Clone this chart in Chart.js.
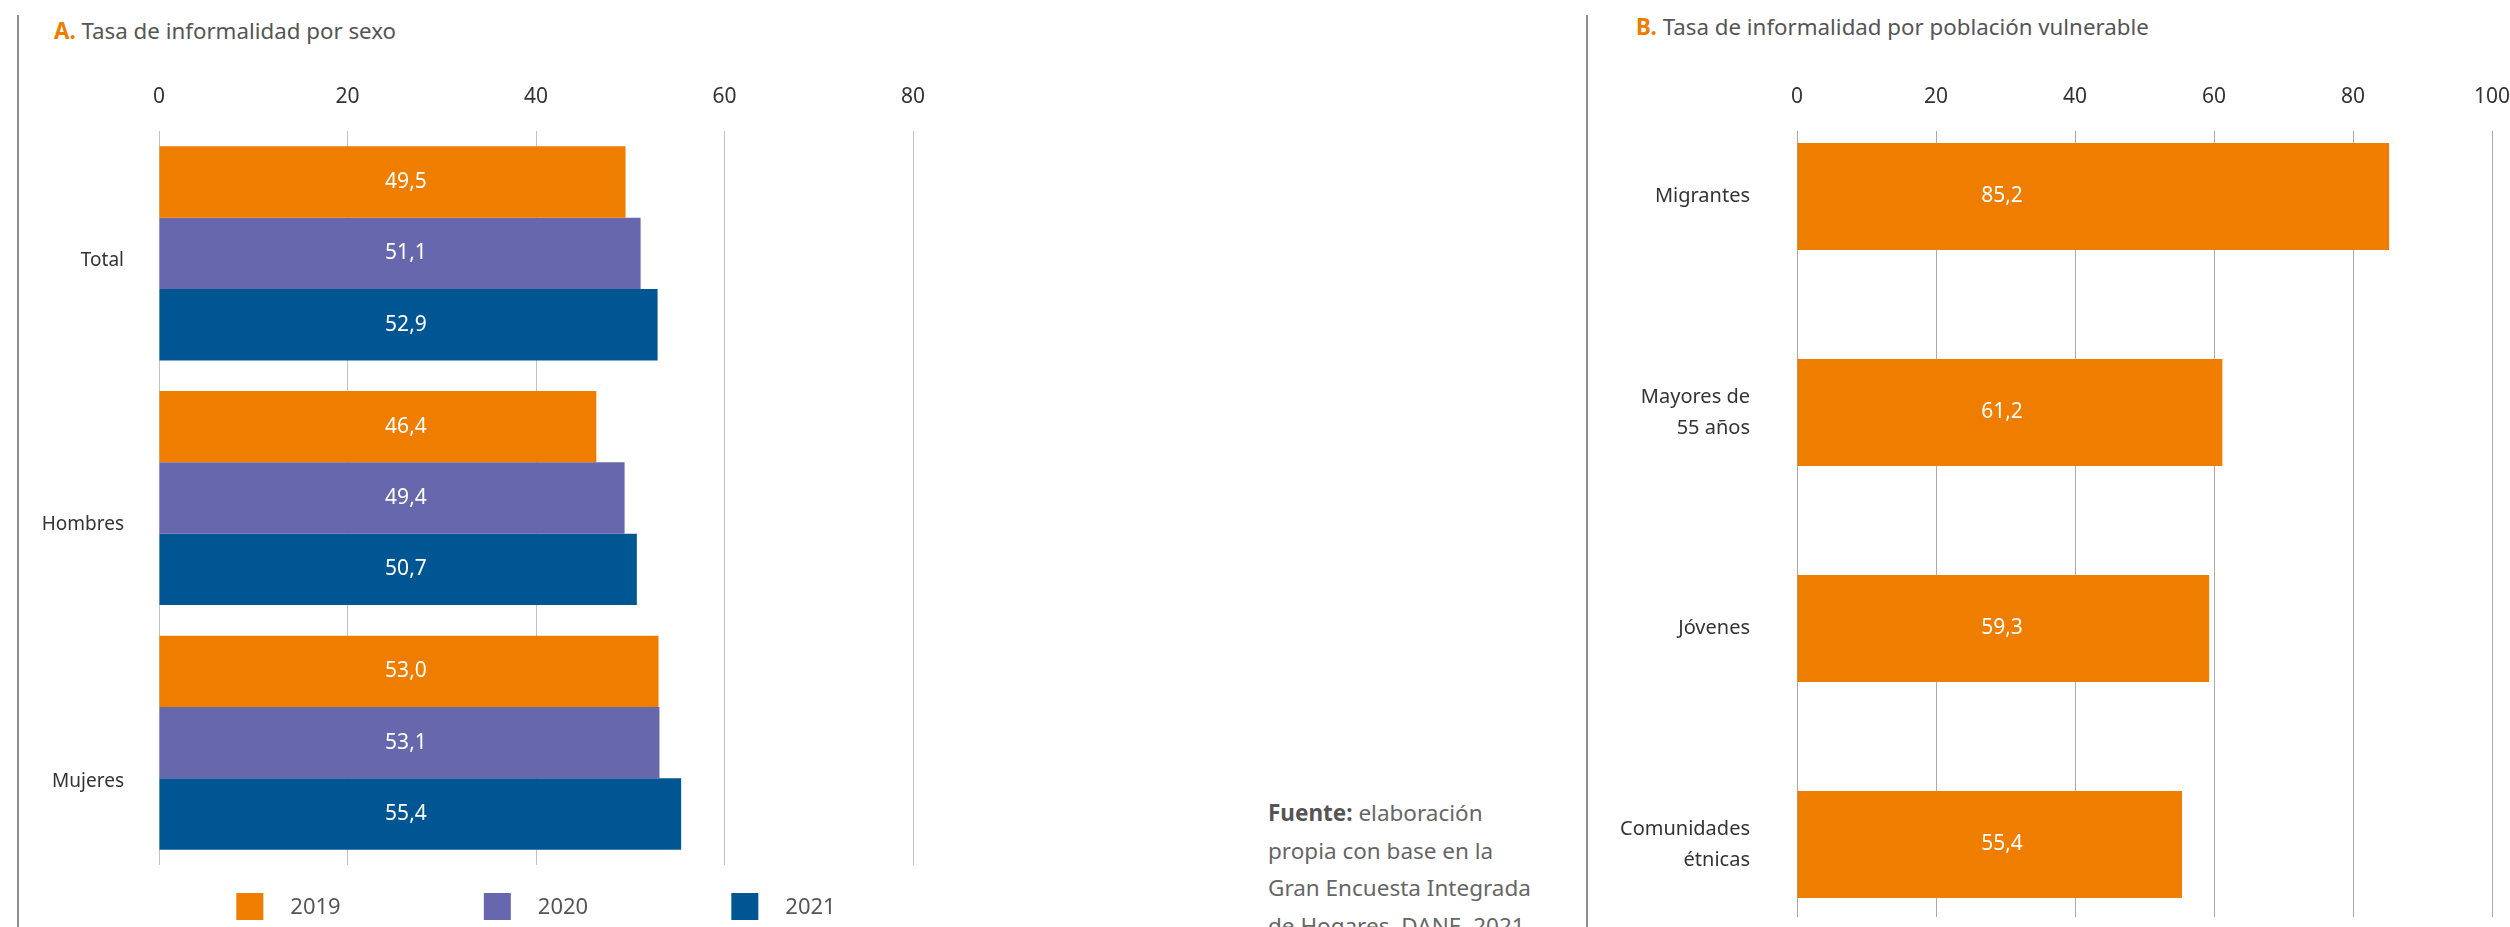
<!DOCTYPE html>
<html>
<head>
<meta charset="utf-8">
<script src="https://cdn.jsdelivr.net/npm/chart.js@4.4.1/dist/chart.umd.min.js"></script>
<style>
  html, body { margin: 0; padding: 0; background: #fff; }
  body { width: 2510px; height: 927px; position: relative; overflow: hidden; font-family: "Noto Sans", "DejaVu Sans", sans-serif; }
  .vline { position: absolute; top: 15px; width: 2px; height: 912px; background: #8e8e8e; }
  .title { position: absolute; font-size: 22.3px; line-height: 26px; color: #555; white-space: nowrap; }
  .title b { color: #EE7D00; font-weight: 700; }
  .box { position: absolute; top: 0; height: 927px; }
  #source { position: absolute; left: 1268px; top: 794px; font-size: 22.5px; line-height: 37.5px; color: #666; white-space: nowrap; }
  #source b { color: #555; font-weight: 700; }
</style>
</head>
<body>
<div class="vline" style="left:17px"></div>
<div class="vline" style="left:1586px"></div>
<div class="title" style="left:54px; top:18px"><b>A.</b> Tasa de informalidad por sexo</div>
<div class="title" style="left:1636px; top:14px"><b>B.</b> Tasa de informalidad por población vulnerable</div>
<div class="box" style="left:20px; width:1032px;"><canvas id="cA"></canvas></div>
<div class="box" style="left:1600px; width:910px;"><canvas id="cB"></canvas></div>
<div id="source"><b>Fuente:</b> elaboración<br>propia con base en la<br>Gran Encuesta Integrada<br>de Hogares, DANE, 2021</div>

<script>
// ---------- DATA ----------
const catsA = ['Total', 'Hombres', 'Mujeres'];
const yearsA = ['2019', '2020', '2021'];
const vals2019 = [49.5, 46.4, 53.0];
const vals2020 = [51.1, 49.4, 53.1];
const vals2021 = [52.9, 50.7, 55.4];
const ticksA = [0, 20, 40, 60, 80];

const catsB = ['Migrantes', 'Mayores de 55 años', 'Jóvenes', 'Comunidades étnicas'];
const valsB = [85.2, 61.2, 59.3, 55.4];
const ticksB = [0, 20, 40, 60, 80, 100];

// ---------- STYLE ----------
const colorsA = ['#EE7D00', '#6667AC', '#005693'];
const colorB = '#EE7D00';
const labelShiftA = [7, 27, 39];

Chart.defaults.font.family = '"Noto Sans", "DejaVu Sans", sans-serif';
Chart.defaults.color = '#333';

const fmt = v => v.toFixed(1).replace('.', ',');

function wrapLabel(s, maxChars) {
  const words = s.split(' ');
  const lines = [];
  let cur = '';
  words.forEach(w => {
    const t = cur ? cur + ' ' + w : w;
    if (t.length > maxChars && cur) { lines.push(cur); cur = w; } else { cur = t; }
  });
  if (cur) lines.push(cur);
  return lines;
}

const valueLabels = {
  id: 'valueLabels',
  afterDatasetsDraw(chart, args, o) {
    const { ctx } = chart;
    const x = chart.scales.x.getPixelForValue(o.at);
    ctx.save();
    ctx.font = o.size + 'px ' + Chart.defaults.font.family;
    ctx.fillStyle = o.color;
    ctx.textAlign = 'center';
    ctx.textBaseline = 'middle';
    chart.data.datasets.forEach((ds, di) => {
      const meta = chart.getDatasetMeta(di);
      meta.data.forEach((bar, i) => {
        const raw = ds.data[i];
        const v = (typeof raw === 'object') ? raw.x : raw;
        ctx.fillText(fmt(v), x, bar.y);
      });
    });
    ctx.restore();
  }
};

const rowLegend = {
  id: 'rowLegend',
  afterDraw(chart, args, o) {
    if (!o || !o.display) return;
    const { ctx, chartArea: a } = chart;
    const items = chart.data.datasets;
    ctx.save();
    ctx.font = o.size + 'px ' + Chart.defaults.font.family;
    const lastW = o.box + o.gap + ctx.measureText(items[items.length - 1].label).width;
    const total = o.spacing * (items.length - 1) + lastW;
    let x = (a.left + a.right) / 2 - total / 2;
    const top = a.bottom + o.offset;
    items.forEach(d => {
      ctx.fillStyle = d.backgroundColor;
      ctx.fillRect(x, top, o.box, o.box);
      ctx.fillStyle = o.color;
      ctx.textAlign = 'left';
      ctx.textBaseline = 'middle';
      ctx.fillText(d.label, x + o.box + o.gap, top + o.box / 2 + 1);
      x += o.spacing;
    });
    ctx.restore();
  }
};

// ---------- CHART A ----------
const seriesA = [vals2019, vals2020, vals2021];
new Chart(document.getElementById('cA'), {
  type: 'bar',
  data: {
    labels: catsA,
    datasets: yearsA.map((y, k) => ({
      label: y,
      data: seriesA[k],
      backgroundColor: colorsA[k],
      categoryPercentage: 0.875,
      barPercentage: 1
    }))
  },
  options: {
    indexAxis: 'y',
    responsive: true,
    maintainAspectRatio: false,
    animation: false,
    layout: { padding: { top: 86, right: 139, bottom: 62, left: 0 } },
    scales: {
      x: {
        position: 'top',
        min: ticksA[0],
        max: ticksA[ticksA.length - 1],
        afterBuildTicks: s => { s.ticks = ticksA.map(v => ({ value: v })); },
        afterFit: s => { s.height = 45; },
        ticks: { font: { size: 21 }, color: '#333', padding: 21 },
        grid: { color: '#c2c2c2', lineWidth: 1, drawTicks: false },
        border: { display: false }
      },
      y: {
        afterFit: s => { s.width = 139; },
        grid: { display: false, drawTicks: false },
        border: { display: false },
        ticks: {
          autoSkip: false,
          padding: 35,
          color: '#333',
          callback: (v, i) => ['', catsA[i]],
          font: c => ({ size: 19, lineHeight: (2 * (labelShiftA[c.index] ?? 10)) + 'px' })
        }
      }
    },
    plugins: {
      legend: { display: false },
      tooltip: { enabled: false },
      valueLabels: { at: 26.2, size: 21, color: '#ffffff' },
      rowLegend: { display: true, box: 27, gap: 27, spacing: 247.5, offset: 28, size: 22, color: '#555' }
    }
  },
  plugins: [valueLabels, rowLegend]
});

// ---------- CHART B ----------
new Chart(document.getElementById('cB'), {
  type: 'bar',
  data: {
    datasets: [{
      label: 'Tasa de informalidad',
      data: valsB.map((v, i) => ({ x: v, y: i })),
      backgroundColor: colorB,
      categoryPercentage: 0.495,
      barPercentage: 1
    }]
  },
  options: {
    indexAxis: 'y',
    responsive: true,
    maintainAspectRatio: false,
    animation: false,
    layout: { padding: { top: 86, right: 18, bottom: 10, left: 0 } },
    scales: {
      x: {
        type: 'linear',
        position: 'top',
        min: ticksB[0],
        max: ticksB[ticksB.length - 1],
        afterBuildTicks: s => { s.ticks = ticksB.map(v => ({ value: v })); },
        afterFit: s => { s.height = 45; s.paddingLeft = 0; s.paddingRight = 0; },
        ticks: { font: { size: 21 }, color: '#333', padding: 21 },
        grid: { color: '#a9a9a9', lineWidth: 1, drawTicks: false },
        border: { display: false }
      },
      y: {
        type: 'linear',
        reverse: true,
        offset: false,
        bounds: 'data',
        min: -0.3032,
        max: 3.3357,
        afterBuildTicks: s => { s.ticks = catsB.map((c, i) => ({ value: i })); },
        afterFit: s => { s.width = 197; s.paddingTop = 0; s.paddingBottom = 0; },
        grid: { display: false, drawTicks: false, offset: false },
        border: { display: false },
        ticks: {
          autoSkip: false,
          padding: 47,
          color: '#333',
          callback: v => wrapLabel(catsB[v], 11),
          font: { size: 20, lineHeight: '31px' }
        }
      }
    },
    plugins: {
      legend: { display: false },
      tooltip: { enabled: false },
      valueLabels: { at: 29.5, size: 21, color: '#ffffff' }
    }
  },
  plugins: [valueLabels]
});
</script>
</body>
</html>
